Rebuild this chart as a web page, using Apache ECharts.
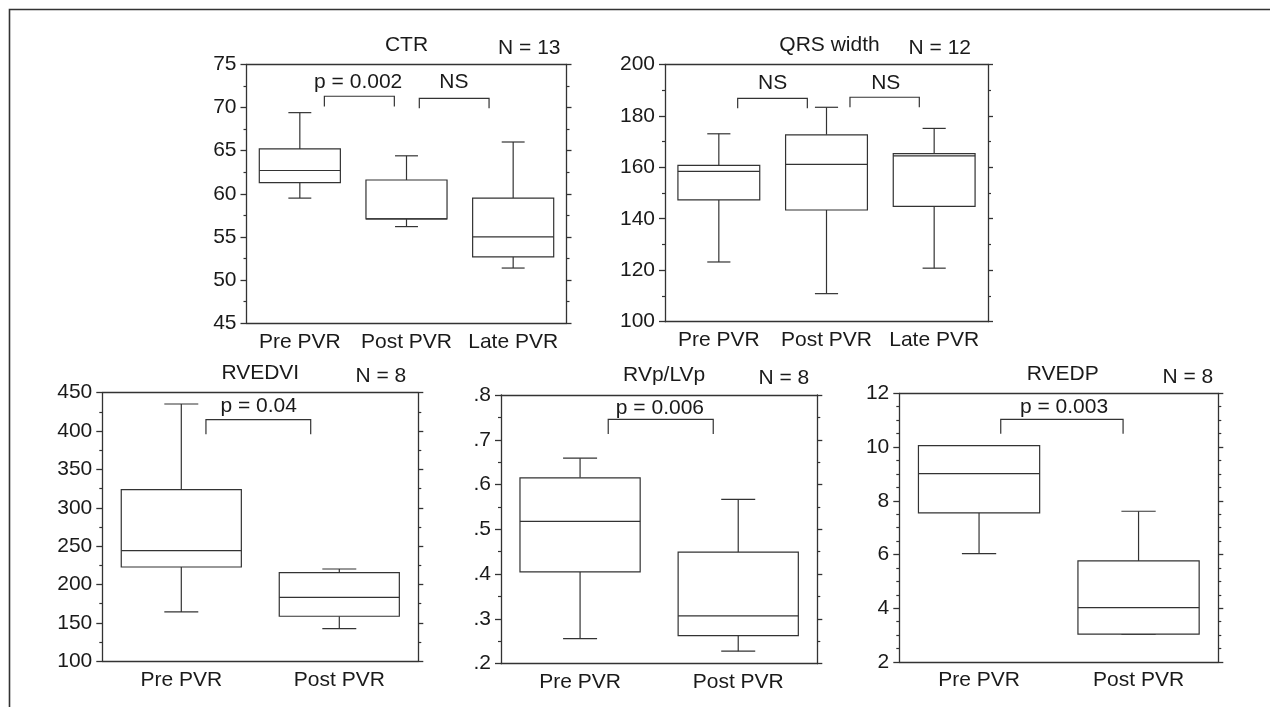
<!DOCTYPE html>
<html>
<head>
<meta charset="utf-8">
<title>PVR box plots</title>
<script src="https://cdn.jsdelivr.net/npm/echarts@6/dist/echarts.min.js"></script>
</head>
<body style="margin:0;background:#fff">
<div id="main" style="width:1270px;height:707px;"></div>
<script>
// categories
var cats3 = ['Pre PVR', 'Post PVR', 'Late PVR'];
var cats2 = ['Pre PVR', 'Post PVR'];

var titles = ['CTR', 'QRS width', 'RVEDVI', 'RVp/LVp', 'RVEDP'];
var nLabels = ['N = 13', 'N = 12', 'N = 8', 'N = 8', 'N = 8'];

// each box: [low whisker, q1, median, q3, high whisker]
var ctrBoxes = [[59.5, 61.3, 62.7, 65.2, 69.4], [56.2, 57.1, 57.1, 61.6, 64.4], [51.4, 52.7, 55.0, 59.5, 66.0]];
var qrsBoxes = [[123.2, 147.3, 158.4, 160.7, 173.0], [110.9, 143.4, 161.1, 172.6, 183.3], [120.8, 144.8, 164.4, 165.3, 175.1]];
var rvedviBoxes = [[164.3, 222.9, 244.2, 323.6, 435.3], [142.6, 158.7, 183.4, 215.5, 220.3]];
var rvpBoxes = [[0.256, 0.405, 0.518, 0.615, 0.659], [0.228, 0.2625, 0.307, 0.449, 0.567]];
var rvedpBoxes = [[6.03, 7.55, 9.01, 10.05, 10.05], [3.04, 3.04, 4.02, 5.76, 7.61]];

// y axis scales
var yMins = [45, 100, 100, 0.2, 2];
var yMaxs = [75, 200, 450, 0.8, 12];
var ySteps = [5, 20, 50, 0.1, 2];
var yMinorSplits = [2, 2, 2, 2, 4];

// significance brackets: [from, to, top, foot], x in category units
var ctrBrackets = [[0.23, 0.886, 71.3, 70.1], [1.12, 1.774, 71.05, 69.9]];
var qrsBrackets = [[0.175, 0.822, 186.8, 182.9], [1.218, 1.862, 187.2, 183.3]];
var rvedviBrackets = [[0.156, 0.819, 414.8, 395.8]];
var rvpBrackets = [[0.178, 0.842, 0.7457, 0.713]];
var rvedpBrackets = [[0.136, 0.903, 11.03, 10.49]];

// bracket notes: [x, y]
var ctrNotePos = [[0.547, 72.87], [1.444, 72.95]];
var ctrNoteText = ['p = 0.002', 'NS'];
var qrsNotePos = [[0.50, 192.85], [1.55, 192.85]];
var qrsNoteText = ['NS', 'NS'];
var rvedviNotePos = [[0.49, 431.8]];
var rvedviNoteText = ['p = 0.04'];
var rvpNotePos = [[0.505, 0.7716]];
var rvpNoteText = ['p = 0.006'];
var rvedpNotePos = [[0.533, 11.49]];
var rvedpNoteText = ['p = 0.003'];

var plots = [
    {cats: cats3, boxes: ctrBoxes, brackets: ctrBrackets, notePos: ctrNotePos, noteText: ctrNoteText},
    {cats: cats3, boxes: qrsBoxes, brackets: qrsBrackets, notePos: qrsNotePos, noteText: qrsNoteText},
    {cats: cats2, boxes: rvedviBoxes, brackets: rvedviBrackets, notePos: rvedviNotePos, noteText: rvedviNoteText},
    {cats: cats2, boxes: rvpBoxes, brackets: rvpBrackets, notePos: rvpNotePos, noteText: rvpNoteText},
    {cats: cats2, boxes: rvedpBoxes, brackets: rvedpBrackets, notePos: rvedpNotePos, noteText: rvedpNoteText}
];

// layout (pixels)
var grids = [
    {left: 246.5, top: 64.3, width: 320, height: 259},
    {left: 665, top: 64.3, width: 323, height: 257.4},
    {left: 102.3, top: 392.7, width: 316, height: 268.6},
    {left: 501, top: 395, width: 316.3, height: 268.7},
    {left: 899.3, top: 393.3, width: 319, height: 268.7}
];
var titleDx = [0, 3, 0, 5, 4];
var nInset = [6, 17, 12, 8, 5];

var FONT = '"Liberation Sans", Arial, sans-serif';
var FSIZE = 21;
var INK = '#333';
var TEXT = '#1a1a1a';

var myChart = echarts.init(document.getElementById('main'));

function renderBox(params, api) {
    var i = api.value(0);
    var lo = api.coord([i, api.value(1)]);
    var q1 = api.coord([i, api.value(2)]);
    var md = api.coord([i, api.value(3)]);
    var q3 = api.coord([i, api.value(4)]);
    var hi = api.coord([i, api.value(5)]);
    var band = api.size([1, 0])[0];
    var bw = band * 0.76, cw = band * 0.215, cx = md[0];
    var st = {stroke: INK, lineWidth: 1.2, fill: null};
    return {
        type: 'group',
        children: [
            {type: 'line', shape: {x1: cx, y1: hi[1], x2: cx, y2: q3[1]}, style: st},
            {type: 'line', shape: {x1: cx, y1: q1[1], x2: cx, y2: lo[1]}, style: st},
            {type: 'line', shape: {x1: cx - cw / 2, y1: hi[1], x2: cx + cw / 2, y2: hi[1]}, style: st},
            {type: 'line', shape: {x1: cx - cw / 2, y1: lo[1], x2: cx + cw / 2, y2: lo[1]}, style: st},
            {type: 'rect', shape: {x: cx - bw / 2, y: q3[1], width: bw, height: q1[1] - q3[1]},
                style: {stroke: INK, lineWidth: 1.2, fill: '#fff'}},
            {type: 'line', shape: {x1: cx - bw / 2, y1: md[1], x2: cx + bw / 2, y2: md[1]}, style: st}
        ]
    };
}

function renderBracket(params, api) {
    var a = api.coord([api.value(0), api.value(3)]);
    var b = api.coord([api.value(0), api.value(2)]);
    var c = api.coord([api.value(1), api.value(2)]);
    var d = api.coord([api.value(1), api.value(3)]);
    return {type: 'polyline', shape: {points: [a, b, c, d]}, style: {stroke: INK, lineWidth: 1.2, fill: null}};
}

function makeNoteRenderer(texts) {
    return function (params, api) {
        var p = api.coord([api.value(0), api.value(1)]);
        return {
            type: 'text', x: p[0], y: p[1],
            style: {text: texts[params.dataIndex], font: FSIZE + 'px ' + FONT, fill: TEXT, align: 'center', verticalAlign: 'middle'}
        };
    };
}

var xAxes = [], yAxes = [], series = [], graphics = [];

graphics.push({
    type: 'polyline',
    shape: {points: [[9.5, 707], [9.5, 9.5], [1270, 9.5]]},
    style: {stroke: INK, lineWidth: 1.6, fill: null}
});

plots.forEach(function (pl, k) {
    var g = grids[k];
    var lineStyle = {color: INK, width: 1.3};
    xAxes.push({
        type: 'category', gridIndex: k, position: 'bottom', data: pl.cats,
        axisLine: {onZero: false, lineStyle: lineStyle},
        axisTick: {alignWithLabel: true, length: 5, lineStyle: lineStyle},
        axisLabel: {interval: 0, fontSize: FSIZE, fontFamily: FONT, color: TEXT, margin: 8},
        splitLine: {show: false}
    });
    xAxes.push({
        type: 'category', gridIndex: k, position: 'top', data: pl.cats,
        axisLine: {onZero: false, lineStyle: lineStyle},
        axisTick: {alignWithLabel: true, length: 3, lineStyle: lineStyle},
        axisLabel: {show: false},
        splitLine: {show: false}
    });
    xAxes.push({
        type: 'value', gridIndex: k, show: false, min: -0.5, max: pl.cats.length - 0.5
    });
    var yCommon = {
        type: 'value', gridIndex: k, min: yMins[k], max: yMaxs[k], interval: ySteps[k],
        axisLine: {show: true, onZero: false, lineStyle: lineStyle},
        minorTick: {show: true, splitNumber: yMinorSplits[k], length: 3, lineStyle: {color: INK, width: 1.2}},
        splitLine: {show: false},
        minorSplitLine: {show: false}
    };
    yAxes.push(Object.assign({}, yCommon, {
        position: 'left',
        axisTick: {show: true, length: 6, lineStyle: lineStyle},
        axisLabel: {
            fontSize: FSIZE, fontFamily: FONT, color: TEXT, margin: 10,
            formatter: k === 3 ? function (v) { return v.toFixed(1).replace(/^0/, ''); } : null
        }
    }));
    yAxes.push(Object.assign({}, yCommon, {
        position: 'right',
        axisTick: {show: true, length: 5, lineStyle: lineStyle},
        axisLabel: {show: false}
    }));

    series.push({
        type: 'custom', xAxisIndex: 3 * k, yAxisIndex: 2 * k,
        renderItem: renderBox,
        encode: {x: 0, y: [1, 2, 3, 4, 5]},
        data: pl.boxes.map(function (b, i) { return [i].concat(b); }),
        z: 3
    });
    series.push({
        type: 'custom', xAxisIndex: 3 * k + 2, yAxisIndex: 2 * k,
        renderItem: renderBracket,
        encode: {x: [0, 1], y: [2, 3]},
        data: pl.brackets,
        z: 3
    });
    series.push({
        type: 'custom', xAxisIndex: 3 * k + 2, yAxisIndex: 2 * k,
        renderItem: makeNoteRenderer(pl.noteText),
        encode: {x: 0, y: 1},
        data: pl.notePos,
        z: 4
    });

    graphics.push({
        type: 'text', x: g.left + g.width / 2 + titleDx[k], y: g.top - 19.5,
        style: {text: titles[k], font: FSIZE + 'px ' + FONT, fill: TEXT, align: 'center', verticalAlign: 'middle'}
    });
    graphics.push({
        type: 'text', x: g.left + g.width - nInset[k], y: g.top - 16.5,
        style: {text: nLabels[k], font: FSIZE + 'px ' + FONT, fill: TEXT, align: 'right', verticalAlign: 'middle'}
    });
});

var option = {
    backgroundColor: '#fff',
    animation: false,
    grid: grids.map(function (g) {
        return {left: g.left, top: g.top, width: g.width, height: g.height, containLabel: false};
    }),
    xAxis: xAxes,
    yAxis: yAxes,
    series: series,
    graphic: graphics
};

myChart.setOption(option);
</script>
</body>
</html>
